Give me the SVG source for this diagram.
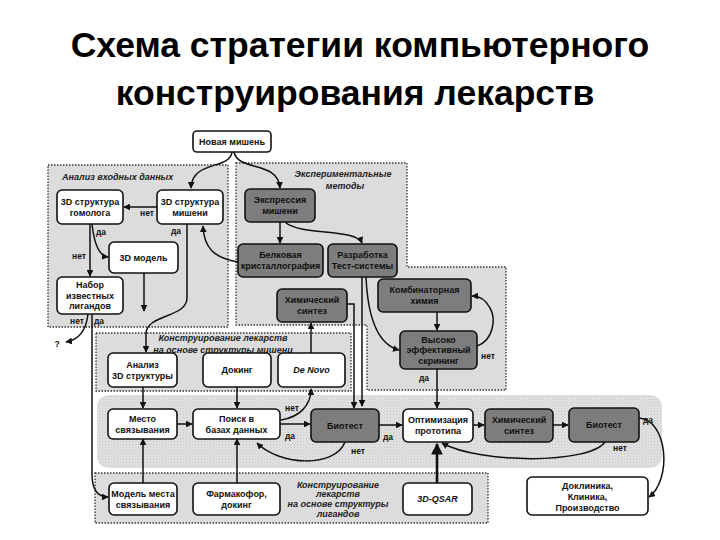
<svg xmlns="http://www.w3.org/2000/svg" width="720" height="540" viewBox="0 0 720 540">
<defs>
<style>
.title{font-family:"Liberation Sans",Arial,sans-serif;font-weight:bold;font-size:35.5px;fill:#000;text-anchor:middle}
.nt{font-family:"Liberation Sans",Arial,sans-serif;font-weight:bold;font-size:9px;fill:#111;text-anchor:middle}
.it{font-style:italic}
.rl{font-family:"Liberation Sans",Arial,sans-serif;font-style:italic;font-weight:bold;font-size:9px;fill:#222}
.lb{font-family:"Liberation Sans",Arial,sans-serif;font-weight:bold;font-size:8.5px;fill:#111;text-anchor:middle}
.region{fill:#dcdcdc;stroke:#333;stroke-width:1.3;stroke-dasharray:1.5 1.5}
.wn{fill:#fff;stroke:#111;stroke-width:1.6}
.dn{fill:#7d7d7d;stroke:#111;stroke-width:1.6}
.c{fill:none;stroke:#111;stroke-width:1.5;marker-end:url(#ah)}
</style>
<marker id="ah" viewBox="0 0 10 10" refX="9" refY="5" markerWidth="4.5" markerHeight="4.5" orient="auto" markerUnits="strokeWidth">
<path d="M0,0 L10,5 L0,10 z" fill="#111"/>
</marker>
<pattern id="stip" width="3" height="3" patternUnits="userSpaceOnUse">
<rect width="3" height="3" fill="#e2e2e2"/>
<rect x="0" y="0" width="1" height="1" fill="#c4c4c4"/>
<rect x="1.5" y="1.5" width="1" height="1" fill="#cfcfcf"/>
</pattern>
</defs>
<rect width="720" height="540" fill="#fff"/>
<text class="title" x="360" y="57">Схема стратегии компьютерного</text>
<text class="title" x="355" y="105">конструирования лекарств</text>

<g id="regions">
<rect class="region" x="48" y="165" width="180" height="162"/>
<path class="region" d="M236,163 L407,163 L407,267 L506,267 L506,390 L367,390 L367,325 L236,325 Z"/>
<rect class="region" x="96" y="333" width="255" height="58"/>
<rect x="97" y="395" width="565" height="73" rx="12" fill="url(#stip)"/>
<rect class="region" x="95" y="473" width="393" height="50"/>
<text class="rl" x="62" y="180">Анализ входных данных</text>
<text class="rl" x="343" y="177" text-anchor="middle">Экспериментальные</text>
<text class="rl" x="345" y="189" text-anchor="middle">методы</text>
<text class="rl" x="223" y="341" text-anchor="middle">Конструирование лекарств</text>
<text class="rl" x="223" y="353" text-anchor="middle">на основе структуры мишени</text>
<text class="rl" x="338" y="488" text-anchor="middle">Конструирование</text>
<text class="rl" x="338" y="497" text-anchor="middle">лекарств</text>
<text class="rl" x="338" y="507" text-anchor="middle">на основе структуры</text>
<text class="rl" x="338" y="517" text-anchor="middle">лигандов</text>
</g>

<g id="connectors">
<path class="c" d="M232,152 C230,170 192,160 191,188"/>
<path class="c" d="M234,152 C238,172 278,160 280,188"/>
<path class="c" d="M157,207 L124,207"/>
<path class="c" d="M187,224 L187,298 C187,318 146,314 146,334 L146,352"/>
<path class="c" d="M144,273 L144,311"/>
<path class="c" d="M92,224 C94,242 98,256 108,257"/>
<path class="c" d="M90,224 L90,276"/>
<path class="c" d="M238,262 C214,258 204,248 203,226"/>
<path class="c" d="M280,222 L280,243"/>
<path class="c" d="M285,222 C300,236 356,228 362,243"/>
<path class="c" d="M88,314 C86,332 78,340 66,342"/>
<path class="c" d="M92,314 L92,474 C92,490 98,497 108,497"/>
<path class="c" d="M143,387 L143,408"/>
<path class="c" d="M177,424 L192,424"/>
<path class="c" d="M237,387 L237,408"/>
<path class="c" d="M280,424 L310,424"/>
<path class="c" d="M281,420 C300,417 311,405 311,389"/>
<path class="c" d="M311,353 L311,323"/>
<path class="c" d="M347,304 L354,304 L354,408"/>
<path class="c" d="M362,277 L362,406"/>
<path class="c" d="M366,277 C368,322 380,345 399,350"/>
<path class="c" d="M437,312 L437,330"/>
<path class="c" d="M477,346 C494,340 496,318 490,308 C486,300 480,296 472,296"/>
<path class="c" d="M437,369 L437,408"/>
<path class="c" d="M379,425 L402,425"/>
<path class="c" d="M345,442 C335,468 280,466 257,443"/>
<path class="c" d="M473,425 L484,425"/>
<path class="c" d="M553,425 L568,425"/>
<path class="c" d="M639,418 C668,420 672,480 649,497"/>
<path class="c" d="M605,442 C590,464 480,464 442,443"/>
<path class="c" d="M143,483 L143,439"/>
<path class="c" d="M237,483 L237,439"/>
<path class="c" d="M437,483 L437,444" style="stroke-width:2.6"/>
<text class="lb" x="147" y="216">нет</text>
<text class="lb" x="176" y="234">да</text>
<text class="lb" x="101" y="235">да</text>
<text class="lb" x="79" y="259">нет</text>
<text class="lb" x="77" y="324">нет</text>
<text class="lb" x="99" y="324">да</text>
<text class="lb" x="57" y="347">?</text>
<text class="lb" x="292" y="411">нет</text>
<text class="lb" x="290" y="439">да</text>
<text class="lb" x="358" y="454">нет</text>
<text class="lb" x="388" y="440">да</text>
<text class="lb" x="488" y="359">нет</text>
<text class="lb" x="424" y="381">да</text>
<text class="lb" x="648" y="423">да</text>
<text class="lb" x="620" y="451">нет</text>
</g>

<g id="n_new"><rect class="wn" x="193" y="131" width="78" height="21" rx="4"/><text class="nt" x="232" y="144.5">Новая мишень</text></g>
<g id="n_homolog"><rect class="wn" x="57" y="190" width="66" height="34" rx="5"/><text class="nt" x="90" y="204.5">3D структура</text><text class="nt" x="90" y="215.5">гомолога</text></g>
<g id="n_target"><rect class="wn" x="157" y="190" width="66" height="34" rx="5"/><text class="nt" x="190" y="204.5">3D структура</text><text class="nt" x="190" y="215.5">мишени</text></g>
<g id="n_model"><rect class="wn" x="109" y="242" width="69" height="31" rx="5"/><text class="nt" x="143.5" y="260.5">3D модель</text></g>
<g id="n_ligands"><rect class="wn" x="57" y="277" width="66" height="37" rx="5"/><text class="nt" x="90" y="288">Набор</text><text class="nt" x="90" y="298.5">известных</text><text class="nt" x="90" y="309">лигандов</text></g>
<g id="n_expr"><rect class="dn" x="245" y="189" width="70" height="33" rx="5"/><text class="nt" x="280" y="203">Экспрессия</text><text class="nt" x="280" y="214">мишени</text></g>
<g id="n_cryst"><rect class="dn" x="238" y="244" width="85" height="33" rx="5"/><text class="nt" x="280.5" y="258">Белковая</text><text class="nt" x="280.5" y="269">кристаллография</text></g>
<g id="n_testsys"><rect class="dn" x="328" y="244" width="69" height="33" rx="5"/><text class="nt" x="362.5" y="258">Разработка</text><text class="nt" x="362.5" y="269">Тест-системы</text></g>
<g id="n_chem1"><rect class="dn" x="277" y="289" width="70" height="33" rx="5"/><text class="nt" x="312" y="303">Химический</text><text class="nt" x="312" y="314">синтез</text></g>
<g id="n_combi"><rect class="dn" x="378" y="279" width="93" height="33" rx="5"/><text class="nt" x="424.5" y="293">Комбинаторная</text><text class="nt" x="424.5" y="304">химия</text></g>
<g id="n_hts"><rect class="dn" x="400" y="331" width="77" height="38" rx="5"/><text class="nt" x="438.5" y="342.5">Высоко</text><text class="nt" x="438.5" y="353">эффективный</text><text class="nt" x="438.5" y="363.5">скрининг</text></g>
<g id="n_analysis"><rect class="wn" x="108" y="353" width="69" height="34" rx="5"/><text class="nt" x="142.5" y="367.5">Анализ</text><text class="nt" x="142.5" y="378.5">3D структуры</text></g>
<g id="n_docking"><rect class="wn" x="203" y="353" width="68" height="34" rx="5"/><text class="nt" x="237" y="373">Докинг</text></g>
<g id="n_denovo"><rect class="wn" x="278" y="353" width="67" height="34" rx="5"/><text class="nt it" x="311.5" y="373">De Novo</text></g>
<g id="n_site"><rect class="wn" x="108" y="409" width="69" height="30" rx="5"/><text class="nt" x="142.5" y="421.5">Место</text><text class="nt" x="142.5" y="432.5">связывания</text></g>
<g id="n_search"><rect class="wn" x="193" y="409" width="87" height="30" rx="5"/><text class="nt" x="236.5" y="421.5">Поиск в</text><text class="nt" x="236.5" y="432.5">базах данных</text></g>
<g id="n_bio1"><rect class="dn" x="311" y="409" width="68" height="33" rx="5"/><text class="nt" x="345" y="428.5">Биотест</text></g>
<g id="n_opt"><rect class="wn" x="403" y="409" width="70" height="33" rx="5"/><text class="nt" x="438" y="423">Оптимизация</text><text class="nt" x="438" y="434">прототипа</text></g>
<g id="n_chem2"><rect class="dn" x="485" y="409" width="68" height="33" rx="5"/><text class="nt" x="519" y="423">Химический</text><text class="nt" x="519" y="434">синтез</text></g>
<g id="n_bio2"><rect class="dn" x="569" y="408" width="70" height="34" rx="5"/><text class="nt" x="604" y="428">Биотест</text></g>
<g id="n_clinic"><rect class="wn" x="527" y="477" width="121" height="38" rx="5"/><text class="nt" x="587.5" y="489">Доклиника,</text><text class="nt" x="587.5" y="500">Клиника,</text><text class="nt" x="587.5" y="511">Производство</text></g>
<g id="n_sitemodel"><rect class="wn" x="109" y="483" width="68" height="32" rx="5"/><text class="nt" x="143" y="496.5">Модель места</text><text class="nt" x="143" y="507.5">связывания</text></g>
<g id="n_pharm"><rect class="wn" x="193" y="483" width="87" height="32" rx="5"/><text class="nt" x="236.5" y="496.5">Фармакофор,</text><text class="nt" x="236.5" y="507.5">докинг</text></g>
<g id="n_qsar"><rect class="wn" x="403" y="483" width="69" height="32" rx="5"/><text class="nt it" x="437.5" y="502">3D-QSAR</text></g>
</svg>
